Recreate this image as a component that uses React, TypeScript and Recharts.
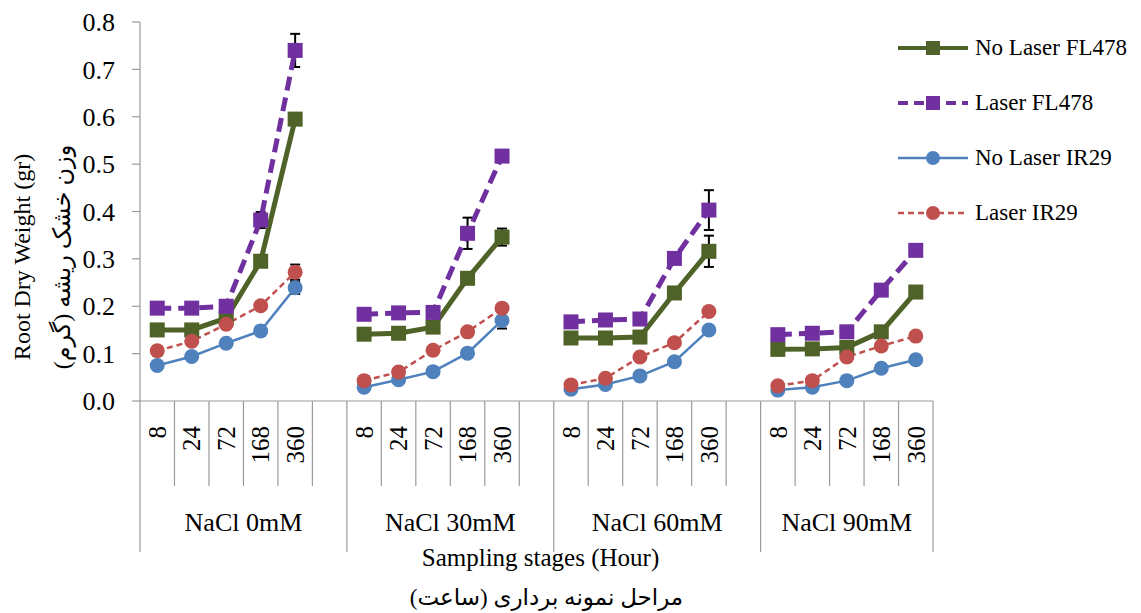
import React from "react";
import { ComposedChart, Line, XAxis, YAxis, ErrorBar, Legend } from "recharts";

const groups = ["NaCl 0mM", "NaCl 30mM", "NaCl 60mM", "NaCl 90mM"];
const hours = ["8", "24", "72", "168", "360"];
const yTicks = [0, 0.1, 0.2, 0.3, 0.4, 0.5, 0.6, 0.7, 0.8];

// root dry weight (gr), 5 sampling stages per salinity level
const noLaserFL478 = [0.150, 0.150, 0.175, 0.295, 0.595, 0.141, 0.143, 0.156, 0.259, 0.346, 0.133, 0.133, 0.135, 0.228, 0.316, 0.109, 0.110, 0.113, 0.146, 0.230];
const laserFL478 = [0.196, 0.196, 0.200, 0.382, 0.740, 0.183, 0.186, 0.187, 0.354, 0.517, 0.167, 0.171, 0.173, 0.301, 0.403, 0.140, 0.143, 0.146, 0.234, 0.318];
const noLaserIR29 = [0.075, 0.094, 0.122, 0.148, 0.239, 0.029, 0.045, 0.062, 0.101, 0.170, 0.025, 0.035, 0.053, 0.083, 0.150, 0.023, 0.029, 0.043, 0.069, 0.087];
const laserIR29 = [0.106, 0.126, 0.162, 0.201, 0.272, 0.043, 0.061, 0.107, 0.146, 0.196, 0.034, 0.048, 0.093, 0.123, 0.189, 0.032, 0.043, 0.093, 0.116, 0.137];

// standard errors
const errNoLaserFL478 = [0.005, 0.005, 0.008, 0.010, 0.010, 0.005, 0.005, 0.005, 0.008, 0.018, 0.004, 0.004, 0.005, 0.008, 0.033, 0.004, 0.004, 0.005, 0.006, 0.008];
const errLaserFL478 = [0.005, 0.005, 0.006, 0.017, 0.035, 0.004, 0.005, 0.005, 0.033, 0.010, 0.004, 0.005, 0.005, 0.008, 0.042, 0.004, 0.004, 0.005, 0.006, 0.008];
const errNoLaserIR29 = [0.006, 0.005, 0.005, 0.006, 0.013, 0.004, 0.004, 0.005, 0.006, 0.017, 0.003, 0.004, 0.005, 0.006, 0.008, 0.003, 0.003, 0.004, 0.005, 0.009];
const errLaserIR29 = [0.010, 0.008, 0.006, 0.008, 0.016, 0.004, 0.004, 0.005, 0.006, 0.008, 0.003, 0.004, 0.005, 0.006, 0.008, 0.003, 0.004, 0.005, 0.006, 0.008];

const SERIF = "'Liberation Serif', 'Times New Roman', serif";
const PERSIAN = "'Liberation Serif', 'DejaVu Sans', serif";
const AXIS = "#9a9a9a";

const series = [
  { key: "nlFL", name: "No Laser FL478", values: noLaserFL478, errors: errNoLaserFL478, color: "#4F6228", width: 5, dash: undefined as string | undefined, legendDash: undefined as string | undefined, shape: "square" },
  { key: "lFL", name: "Laser FL478", values: laserFL478, errors: errLaserFL478, color: "#7030A0", width: 5, dash: "14 7", legendDash: "10 6", shape: "square" },
  { key: "nlIR", name: "No Laser IR29", values: noLaserIR29, errors: errNoLaserIR29, color: "#4F81BD", width: 2.5, dash: undefined, legendDash: undefined, shape: "circle" },
  { key: "lIR", name: "Laser IR29", values: laserIR29, errors: errLaserIR29, color: "#C0504D", width: 2.5, dash: "6 4", legendDash: "6 4", shape: "circle" },
];

type Row = Record<string, any>;
const rows: Row[] = [];
groups.forEach((g, gi) => {
  hours.forEach((h, hi) => {
    const row: Row = { slot: `${gi}-${hi}`, hour: h, group: gi, start: hi === 0 };
    series.forEach((s) => {
      row[s.key] = s.values[gi * hours.length + hi];
      row[s.key + "Err"] = s.errors[gi * hours.length + hi];
    });
    rows.push(row);
  });
  // empty slot between salinity groups
  if (gi < groups.length - 1) rows.push({ slot: `${gi}-gap`, hour: "", group: gi, start: false });
});

const SLOT = (933 - 140) / rows.length;

function SlotTick(props: any) {
  const { x, y, payload } = props;
  const i = payload?.index ?? props.index ?? 0;
  const row = rows[i];
  if (!row) return <g />;
  const half = payload?.offset || SLOT / 2;
  const left = x - half;
  const groupSlots = rows.filter((r) => r.group === row.group).length;
  return (
    <g>
      <line x1={left} x2={left} y1={y} y2={row.start ? y + 151 : y + 85} stroke={AXIS} strokeWidth={1.2} />
      {i === rows.length - 1 && (
        <line x1={x + half} x2={x + half} y1={y} y2={y + 151} stroke={AXIS} strokeWidth={1.2} />
      )}
      {row.hour && (
        <text transform={`translate(${x},${y + 25}) rotate(-90)`} textAnchor="end" dy="0.35em" fontSize={25} fontFamily={SERIF} fill="#000">
          {row.hour}
        </text>
      )}
      {row.start && (
        <text x={left + groupSlots * half} y={y + 121} textAnchor="middle" dominantBaseline="central" fontSize={26} fontFamily={SERIF} fill="#000">
          {groups[row.group]}
        </text>
      )}
    </g>
  );
}

function XTitle(props: any) {
  const vb = props.viewBox || {};
  const cx = vb.width ? vb.x + vb.width / 2 + 4 : 541;
  return (
    <g>
      <text x={cx} y={557} textAnchor="middle" dominantBaseline="central" fontSize={25} fontFamily={SERIF} fill="#000">
        Sampling stages (Hour)
      </text>
      <text x={cx + 6} y={597} textAnchor="middle" dominantBaseline="central" fontSize={23} fontFamily={PERSIAN} fill="#000" direction="rtl">
        {"\u200Fمراحل نمونه برداری (ساعت)\u200F"}
      </text>
    </g>
  );
}

function YTitle() {
  const cy = 257;
  return (
    <g>
      <text transform={`translate(22,${cy}) rotate(-90)`} textAnchor="middle" dominantBaseline="central" fontSize={24} fontFamily={SERIF} fill="#000">
        Root Dry Weight (gr)
      </text>
      <text transform={`translate(62,${cy}) rotate(-90)`} textAnchor="middle" dominantBaseline="central" fontSize={24} fontFamily={PERSIAN} fill="#000" direction="rtl">
        {"\u200Fوزن خشک ریشه (گرم)\u200F"}
      </text>
    </g>
  );
}

function makeDot(s: (typeof series)[number]) {
  return (p: any) => {
    const { cx, cy, index } = p;
    if (cx == null || cy == null || Number.isNaN(cy)) return <g key={`${s.key}-${index}`} />;
    if (s.shape === "square")
      return <rect key={`${s.key}-${index}`} x={cx - 7.5} y={cy - 7.5} width={15} height={15} fill={s.color} />;
    return <circle key={`${s.key}-${index}`} cx={cx} cy={cy} r={7.5} fill={s.color} />;
  };
}

function LegendContent(props: any) {
  const items = [...(props.payload || [])].sort(
    (a: any, b: any) => series.findIndex((s) => s.key === a.dataKey) - series.findIndex((s) => s.key === b.dataKey)
  );
  return (
    <div style={{ fontFamily: SERIF, fontSize: 23, color: "#000", width: 243 }}>
      {items.map((item: any) => {
        const s = series.find((x) => x.key === item.dataKey) || series[0];
        return (
          <div key={s.key} style={{ height: 55, display: "flex", alignItems: "center" }}>
            <svg width={70} height={20}>
              <line x1={0} x2={70} y1={10} y2={10} stroke={s.color} strokeWidth={s.width === 5 ? 4 : 2.5} strokeDasharray={s.legendDash} />
              {s.shape === "square" ? (
                <rect x={28} y={3} width={14} height={14} fill={s.color} />
              ) : (
                <circle cx={35} cy={10} r={7} fill={s.color} />
              )}
            </svg>
            <span style={{ marginLeft: 7, whiteSpace: "nowrap" }}>{item.value}</span>
          </div>
        );
      })}
    </div>
  );
}

export default function App() {
  return (
    <div style={{ position: "absolute", left: 0, top: 0, background: "#fff" }}>
      <ComposedChart width={1141} height={613} data={rows} margin={{ top: 22, right: 208, bottom: 0, left: 0 }}>
        <XAxis
          dataKey="slot"
          scale="band"
          interval={0}
          tick={<SlotTick />}
          tickLine={false}
          tickSize={0}
          tickMargin={0}
          height={212}
          axisLine={{ stroke: AXIS, strokeWidth: 1.2 }}
          label={<XTitle />}
        />
        <YAxis
          domain={[0, 0.8]}
          ticks={yTicks}
          width={140}
          tickFormatter={(v: number) => v.toFixed(1)}
          tick={{ fontSize: 26, fontFamily: SERIF, fill: "#000" }}
          tickSize={8}
          tickMargin={17}
          axisLine={{ stroke: AXIS, strokeWidth: 1.2 }}
          tickLine={{ stroke: AXIS, strokeWidth: 1.2 }}
          label={<YTitle />}
        />
        <Legend
          layout="vertical"
          verticalAlign="top"
          align="right"
          content={<LegendContent />}
          wrapperStyle={{ position: "absolute", left: 898, top: 20, width: 0, height: 0, overflow: "visible" }}
        />
        {series.map((s) => (
          <Line
            key={s.key}
            dataKey={s.key}
            name={s.name}
            type="linear"
            stroke={s.color}
            strokeWidth={s.width}
            strokeDasharray={s.dash}
            dot={makeDot(s)}
            activeDot={false}
            connectNulls={false}
            isAnimationActive={false}
          >
            <ErrorBar dataKey={s.key + "Err"} width={5} stroke="#000" strokeWidth={2} direction="y" />
          </Line>
        ))}
      </ComposedChart>
    </div>
  );
}
